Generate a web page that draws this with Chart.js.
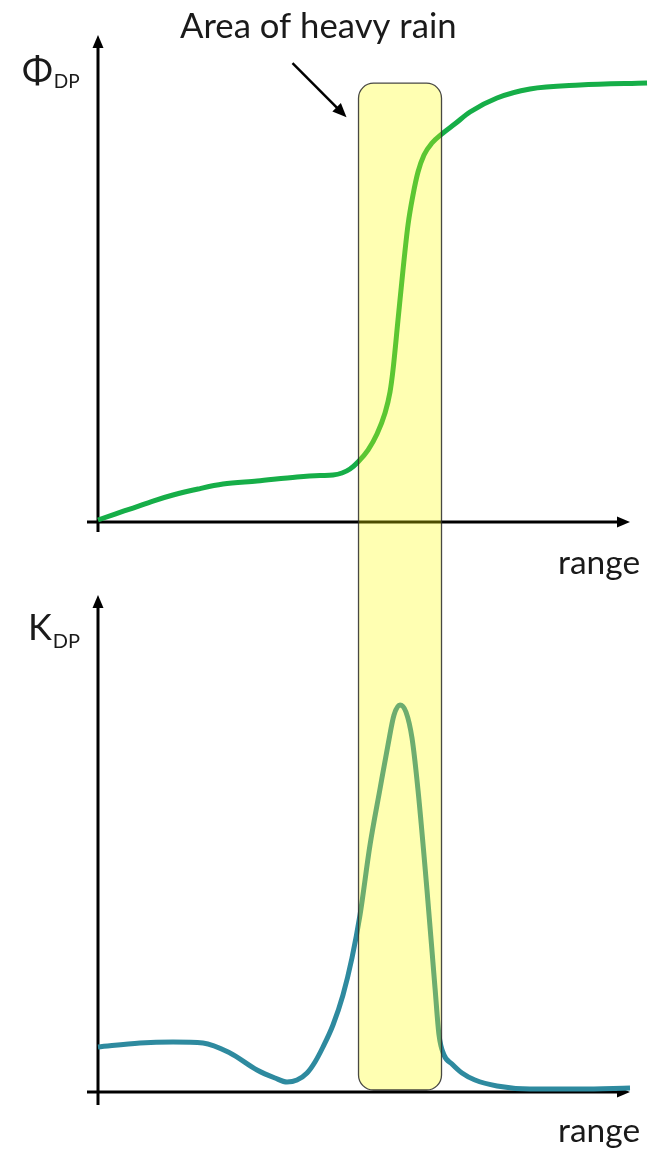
<!DOCTYPE html>
<html lang="en">
<head>
    <meta charset="UTF-8">
    <title>Area of heavy rain - PhiDP and KDP</title>
    <script src="https://cdn.jsdelivr.net/npm/chart.js@4.4.4/dist/chart.umd.min.js"></script>
</head>
<body style="margin: 0; background: #ffffff;">
    <canvas id="rainChart" width="667" height="1151"></canvas>

    <script>
        // Range along the beam (0 = origin, 100 = tip of the x axis arrow)
        const phiRange = [0, 3.2, 6.58, 10.34, 14.1, 18.8, 23.5, 29.89, 37.41, 41.73, 44.17, 45.86, 47.37,
            48.87, 50.75, 52.44, 53.95, 54.89, 55.45, 56.39, 57.33, 58.27, 59.21, 60.15, 61.28, 62.78,
            64.66, 67.11, 69.92, 75.0, 81.2, 90.6, 103.2];
        // Differential phase (0 = x axis, 100 = tip of the y axis arrow)
        const phiValues = [0.41, 1.64, 2.87, 4.31, 5.54, 6.78, 7.8, 8.42, 9.24, 9.55, 9.65, 10.06, 10.88,
            12.32, 14.78, 18.07, 22.38, 26.69, 31.21, 41.48, 51.75, 60.99, 67.15, 71.87, 75.36, 77.82,
            79.71, 81.77, 84.19, 87.06, 88.91, 89.73, 90.14];

        const kdpRange = [0, 7.89, 14.1, 19.74, 24.81, 29.89, 33.27, 35.53, 37.41, 39.29, 40.79, 42.29,
            44.17, 46.05, 47.74, 49.25, 51.13, 53.01, 54.51, 55.64, 56.77, 57.89, 59.02, 60.15, 61.84,
            63.35, 64.1, 65.04, 66.54, 68.42, 70.86, 75.0, 81.2, 90.6, 100];
        // Specific differential phase
        const kdpValues = [9.05, 9.86, 10.06, 9.86, 7.85, 4.43, 2.82, 2.01, 2.41, 3.82, 6.04, 9.05,
            13.48, 19.52, 26.96, 35.61, 49.7, 61.0, 69.82, 75.86, 77.87, 76.46, 71.23, 60.76, 40.64,
            20.93, 11.47, 7.44, 5.63, 3.82, 2.41, 1.21, 0.6, 0.6, 0.8];

        // Heavy rain band: range start / end, top in PhiDP units, bottom in KDP units
        const rainBand = [48.97, 64.57];
        const rainBandTop = 90.1;
        const rainBandBottom = 0.4;

        const titleText = 'Area of heavy rain';
        const xAxisLabel = 'range';

        // Both y scales cover the whole canvas; min / max put each plot in its own half
        const PHI_MIN = -117.04;
        const KDP_MAX = 212.68;

        function drawArrow(ctx, x1, y1, x2, y2, head, half) {
            const a = Math.atan2(y2 - y1, x2 - x1);
            const c = Math.cos(a), s = Math.sin(a);
            ctx.beginPath();
            ctx.moveTo(x1, y1);
            ctx.lineTo(x2 - head * 0.7 * c, y2 - head * 0.7 * s);
            ctx.stroke();
            ctx.beginPath();
            ctx.moveTo(x2, y2);
            ctx.lineTo(x2 - head * c + half * s, y2 - head * s - half * c);
            ctx.lineTo(x2 - head * c - half * s, y2 - head * s + half * c);
            ctx.closePath();
            ctx.fill();
        }

        function roundedRect(ctx, x, y, w, h, r) {
            ctx.beginPath();
            ctx.moveTo(x + r, y);
            ctx.lineTo(x + w - r, y);
            ctx.arcTo(x + w, y, x + w, y + r, r);
            ctx.lineTo(x + w, y + h - r);
            ctx.arcTo(x + w, y + h, x + w - r, y + h, r);
            ctx.lineTo(x + r, y + h);
            ctx.arcTo(x, y + h, x, y + h - r, r);
            ctx.lineTo(x, y + r);
            ctx.arcTo(x, y, x + r, y, r);
            ctx.closePath();
        }

        // Writes text scaled so that it is exactly `width` pixels wide
        function fitText(ctx, text, x, y, width) {
            ctx.font = '40px Lato';
            const size = 40 * width / ctx.measureText(text).width;
            ctx.font = size.toFixed(1) + 'px Lato';
            ctx.fillText(text, x, y);
        }

        // Big letter with a small "DP" right after it
        function subscriptLabel(ctx, letter, x, y, size, subSize, drop) {
            ctx.font = size + 'px Lato';
            ctx.fillText(letter, x, y);
            const w = ctx.measureText(letter).width;
            ctx.font = subSize + 'px Lato';
            ctx.fillText('DP', x + w + 1, y + drop);
        }

        const sketchPlugin = {
            id: 'sketch',
            // Axes with arrows, under the curves
            beforeDatasetsDraw(chart) {
                const ctx = chart.ctx;
                const x = chart.scales.x;
                ctx.save();
                ctx.strokeStyle = '#000000';
                ctx.fillStyle = '#000000';
                ctx.lineWidth = 3;
                [['yPhi', 10], ['yKdp', 13]].forEach(([id, below]) => {
                    const y = chart.scales[id];
                    const x0 = x.getPixelForValue(0);
                    const y0 = y.getPixelForValue(0);
                    drawArrow(ctx, x0, y0 + below, x0, y.getPixelForValue(100), 13, 5.5);
                    drawArrow(ctx, x0 - 11, y0, x.getPixelForValue(100), y0, 13, 5.5);
                });
                ctx.restore();
            },
            // Transparent band on top of the curves, then the text
            afterDatasetsDraw(chart) {
                const ctx = chart.ctx;
                const x = chart.scales.x;
                const left = x.getPixelForValue(rainBand[0]);
                const right = x.getPixelForValue(rainBand[1]);
                const top = chart.scales.yPhi.getPixelForValue(rainBandTop);
                const bottom = chart.scales.yKdp.getPixelForValue(rainBandBottom);
                ctx.save();
                roundedRect(ctx, left, top, right - left, bottom - top, 15);
                ctx.fillStyle = 'rgba(255, 255, 0, 0.3)';
                ctx.fill();
                ctx.strokeStyle = 'rgba(40, 40, 40, 0.85)';
                ctx.lineWidth = 1.3;
                ctx.stroke();

                // pointer from the title to the band
                ctx.strokeStyle = '#000000';
                ctx.fillStyle = '#000000';
                ctx.lineWidth = 2.5;
                drawArrow(ctx, left - 66, top - 20, left - 12, top + 34, 14, 6);

                ctx.fillStyle = '#1a1a1a';
                ctx.textBaseline = 'alphabetic';
                fitText(ctx, titleText, 180, 38, 277);

                const xEnd = x.getPixelForValue(100);
                fitText(ctx, xAxisLabel, xEnd - 72, chart.scales.yPhi.getPixelForValue(0) + 52, 82);
                fitText(ctx, xAxisLabel, xEnd - 72, chart.scales.yKdp.getPixelForValue(0) + 50, 82);

                subscriptLabel(ctx, '\u03A6', 22, 83, 37, 19, 5);
                subscriptLabel(ctx, 'K', 28, 640, 36, 20, 8);
                ctx.restore();
            }
        };

        function initChart() {
            const ctx = document.getElementById('rainChart').getContext('2d');
            new Chart(ctx, {
                type: 'line',
                data: {
                    datasets: [
                        {
                            data: phiRange.map((r, i) => ({ x: r, y: phiValues[i] })),
                            yAxisID: 'yPhi',
                            borderColor: '#16ae48',
                            borderWidth: 5,
                            pointRadius: 0,
                            cubicInterpolationMode: 'monotone',
                            clip: false
                        },
                        {
                            data: kdpRange.map((r, i) => ({ x: r, y: kdpValues[i] })),
                            yAxisID: 'yKdp',
                            borderColor: '#2e8a9f',
                            borderWidth: 5,
                            pointRadius: 0,
                            cubicInterpolationMode: 'monotone',
                            clip: false
                        }
                    ]
                },
                options: {
                    responsive: false,
                    animation: false,
                    layout: { padding: { left: 98, right: 37, top: 35, bottom: 59 } },
                    plugins: { legend: { display: false }, tooltip: { enabled: false } },
                    scales: {
                        x: { type: 'linear', min: 0, max: 100, bounds: 'data', display: false },
                        yPhi: { type: 'linear', min: PHI_MIN, max: 100, bounds: 'data', display: false },
                        yKdp: { type: 'linear', min: 0, max: KDP_MAX, bounds: 'data', display: false }
                    }
                },
                plugins: [sketchPlugin]
            });
        }

        document.fonts.load('36px Lato').then(initChart, initChart);
    </script>
</body>
</html>
